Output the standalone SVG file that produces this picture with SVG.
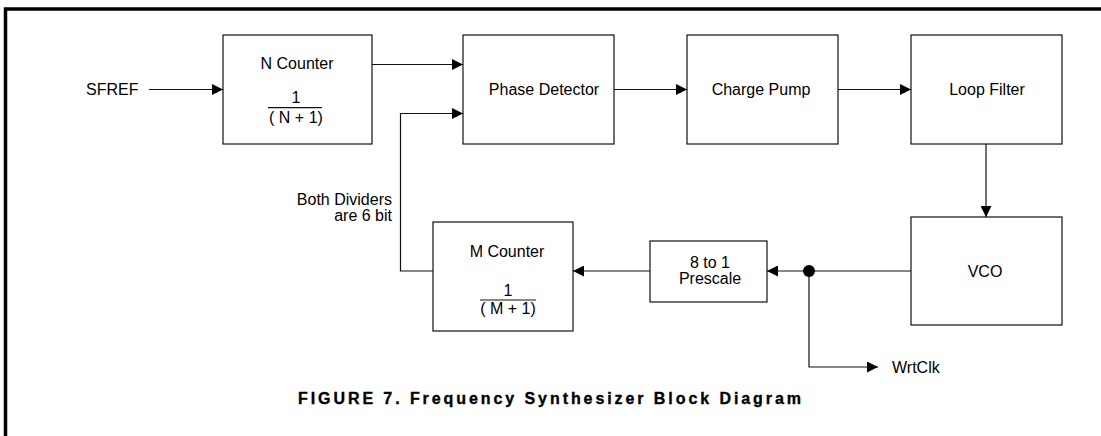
<svg xmlns="http://www.w3.org/2000/svg" width="1101" height="436" viewBox="0 0 1101 436">
<style>
.box{fill:#fff;stroke:#111;stroke-width:1.2}
.t{font-family:"Liberation Sans",Arial,Helvetica,sans-serif;font-size:16px;fill:#000}
.m{text-anchor:middle}
.ln{fill:none;stroke:#111;stroke-width:1.2}
.title{font-family:"Liberation Sans",Arial,Helvetica,sans-serif;font-size:16px;font-weight:bold;fill:#000;stroke:#000;stroke-width:0.35}
</style>
<defs>
<marker id="ah" markerUnits="userSpaceOnUse" markerWidth="11" markerHeight="11" refX="11" refY="5.5" orient="auto">
<path d="M0,0 L11,5.5 L0,11 z" fill="#000"/>
</marker>
</defs>
<rect width="1101" height="436" fill="#fff"/>
<g id="frame">
<path d="M5.5,436 V9 H1101" fill="none" stroke="#000" stroke-width="3.5"/>
</g>
<g id="connectors">
<path class="ln" d="M149,89.5 H223" marker-end="url(#ah)"/>
<path class="ln" d="M372,64.5 H463" marker-end="url(#ah)"/>
<path class="ln" d="M433,271 H400.5 V113.5 H463" marker-end="url(#ah)"/>
<path class="ln" d="M614,89.5 H687" marker-end="url(#ah)"/>
<path class="ln" d="M838,89.5 H911" marker-end="url(#ah)"/>
<path class="ln" d="M986,144 V217" marker-end="url(#ah)"/>
<path class="ln" d="M911,271 H767" marker-end="url(#ah)"/>
<path class="ln" d="M650,271 H573" marker-end="url(#ah)"/>
<path class="ln" d="M809,271 V367 H878" marker-end="url(#ah)"/>
<circle cx="809" cy="271" r="6" fill="#000"/>
</g>
<g id="sfref"><text class="t" x="86" y="95">SFREF</text></g>
<g id="ncounter">
<rect class="box" x="223" y="35" width="149" height="109"/>
<text class="t m" x="297" y="69">N Counter</text>
<text class="t m" x="296" y="103">1</text>
<line class="ln" x1="268" y1="107.7" x2="322" y2="107.7"/>
<text class="t m" x="296" y="123" font-size="15">( N + 1)</text>
</g>
<g id="phasedetector">
<rect class="box" x="463" y="35" width="151" height="109"/>
<text class="t m" x="544" y="95">Phase Detector</text>
</g>
<g id="chargepump">
<rect class="box" x="687" y="35" width="151" height="109"/>
<text class="t m" x="761" y="95">Charge Pump</text>
</g>
<g id="loopfilter">
<rect class="box" x="911" y="35" width="151" height="109"/>
<text class="t m" x="987" y="95">Loop Filter</text>
</g>
<g id="vco">
<rect class="box" x="911" y="217" width="151" height="108"/>
<text class="t m" x="985" y="277">VCO</text>
</g>
<g id="prescale">
<rect class="box" x="650" y="241" width="117" height="61"/>
<text class="t m" x="710" y="268">8 to 1</text>
<text class="t m" x="710" y="284">Prescale</text>
</g>
<g id="mcounter">
<rect class="box" x="433" y="222" width="140" height="109"/>
<text class="t m" x="507" y="257">M Counter</text>
<text class="t m" x="508" y="296">1</text>
<line class="ln" x1="480" y1="300" x2="536" y2="300"/>
<text class="t m" x="508" y="314" font-size="15">( M + 1)</text>
</g>
<g id="note">
<text class="t" x="392" y="205" text-anchor="end">Both Dividers</text>
<text class="t" x="392" y="221" text-anchor="end">are 6 bit</text>
</g>
<g id="wrtclk"><text class="t" x="892" y="373">WrtClk</text></g>
<g id="caption">
<text class="title" x="298" y="404" textLength="503" lengthAdjust="spacing">FIGURE 7. Frequency Synthesizer Block Diagram</text>
</g>
</svg>
